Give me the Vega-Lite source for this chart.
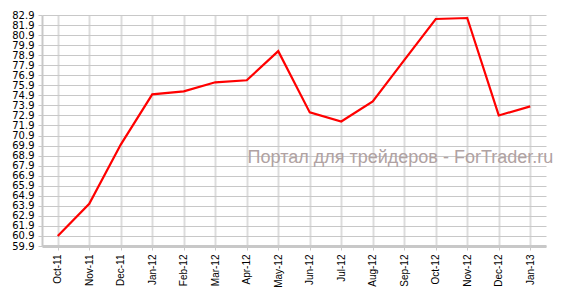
{
  "$schema": "https://vega.github.io/schema/vega-lite/v6.json",
  "width": 504,
  "height": 231,
  "autosize": {"type": "none"},
  "padding": {"left": 42, "top": 15, "right": 15, "bottom": 47},
  "background": "white",
  "config": {"view": {"stroke": null}},
  "layer": [
    {
      "data": {"values": [
        {"month": "Oct-11", "value": 60.9},
        {"month": "Nov-11", "value": 64.1},
        {"month": "Dec-11", "value": 70.0},
        {"month": "Jan-12", "value": 75.0},
        {"month": "Feb-12", "value": 75.3},
        {"month": "Mar-12", "value": 76.2},
        {"month": "Apr-12", "value": 76.4},
        {"month": "May-12", "value": 79.3},
        {"month": "Jun-12", "value": 73.2},
        {"month": "Jul-12", "value": 72.3},
        {"month": "Aug-12", "value": 74.3},
        {"month": "Sep-12", "value": 78.4},
        {"month": "Oct-12", "value": 82.5},
        {"month": "Nov-12", "value": 82.6},
        {"month": "Dec-12", "value": 72.9},
        {"month": "Jan-13", "value": 73.8}
      ]},
      "mark": {"type": "line", "color": "#ff0000", "strokeWidth": 2.2},
      "encoding": {
        "x": {
          "field": "month", "type": "ordinal", "sort": null,
          "scale": {"type": "point", "padding": 0.5},
          "axis": {
            "title": null, "labelAngle": -90, "labelFont": "Liberation Sans", "labelFontSize": 10,
            "labelColor": "#000", "labelPadding": 4, "tickSize": 4, "tickColor": "#c8c8c8", "tickWidth": 1,
            "domainColor": "#c8c8c8", "domainWidth": 3, "labelOverlap": false,
            "grid": true, "gridColor": "#dcdcdc", "gridWidth": 2
          }
        },
        "y": {
          "field": "value", "type": "quantitative",
          "scale": {"domain": [59.9, 82.9], "nice": false, "zero": false},
          "axis": {
            "title": null, "values": [59.9, 60.9, 61.9, 62.9, 63.9, 64.9, 65.9, 66.9, 67.9, 68.9, 69.9, 70.9, 71.9, 72.9, 73.9, 74.9, 75.9, 76.9, 77.9, 78.9, 79.9, 80.9, 81.9, 82.9],
            "tickCount": 40,
            "format": ".1f", "labelFont": "DejaVu Sans", "labelFontSize": 10, "labelColor": "#000",
            "labelOverlap": false, "labelBound": false, "labelFlush": false,
            "labelPadding": 4, "tickSize": 4, "tickColor": "#c8c8c8", "domainColor": "#c8c8c8", "domainWidth": 2,
            "grid": true, "gridColor": "#c8c8c8", "gridWidth": 1
          }
        }
      }
    },
    {
      "data": {"values": [{"label": "Портал для трейдеров - ForTrader.ru"}]},
      "mark": {"type": "text", "align": "right", "baseline": "alphabetic",
        "font": "Liberation Sans", "fontSize": 18, "fontWeight": "normal", "color": "#b0a2a2", "dx": 23},
      "encoding": {
        "text": {"field": "label"},
        "x": {"datum": "Jan-13"},
        "y": {"datum": 68.2}
      }
    }
  ]
}
